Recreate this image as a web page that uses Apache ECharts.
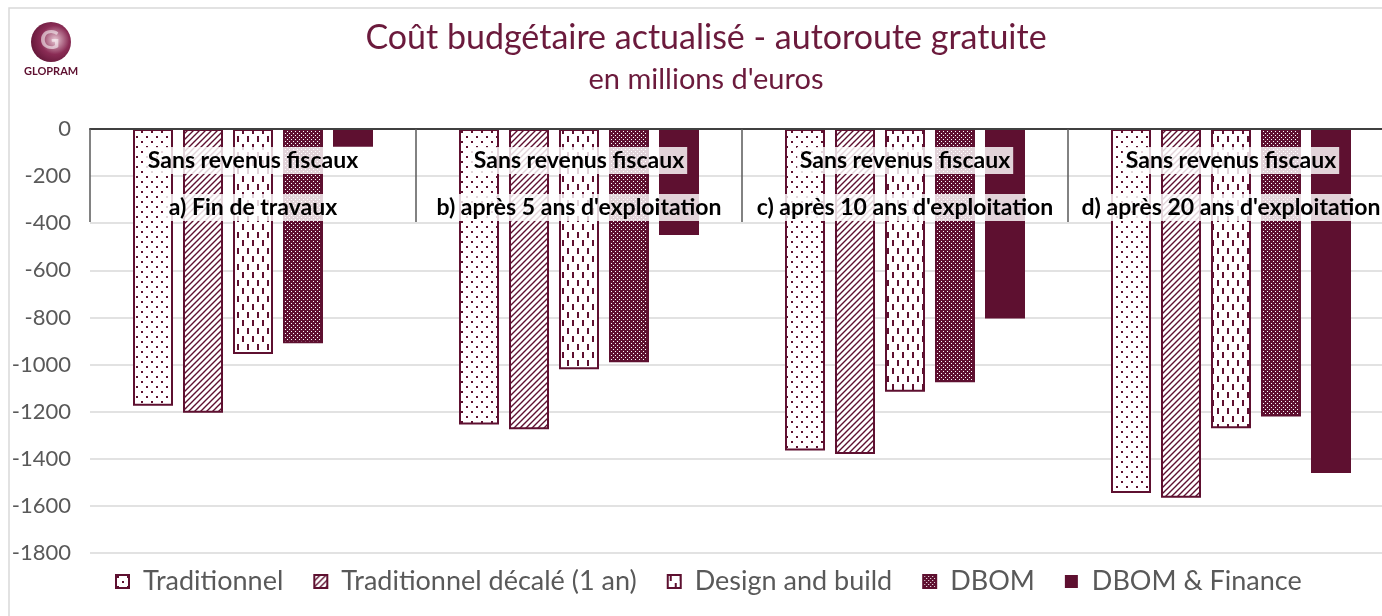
<!DOCTYPE html>
<html>
<head>
<meta charset="utf-8">
<script src="https://cdn.jsdelivr.net/npm/echarts@6/dist/echarts.min.js"></script>
<style>
  html, body { margin: 0; padding: 0; background: #fff; }
  #chart { width: 1382px; height: 616px; }
</style>
</head>
<body>
<div id="chart"></div>
<script>
// ==================== Données ====================

const categories = ['a) Fin de travaux', "b) après 5 ans d'exploitation", "c) après 10 ans d'exploitation", "d) après 20 ans d'exploitation"];
const groupLabel = 'Sans revenus fiscaux';
const seriesNames = ['Traditionnel', 'Traditionnel décalé (1 an)', 'Design and build', 'DBOM', 'DBOM & Finance'];

const traditionnel = [-1175, -1255, -1365, -1545];
const traditionnelDecale = [-1205, -1275, -1380, -1565];
const designBuild = [-955, -1020, -1115, -1270];
const dbom = [-910, -990, -1075, -1220];
const dbomFinance = [-75, -450, -805, -1460];

const seriesValues = [traditionnel, traditionnelDecale, designBuild, dbom, dbomFinance];

// ==================== Style ====================

const MAROON = '#5e1030';
const FONT = 'Lato, "Open Sans", sans-serif';

// motifs de remplissage (type Excel)
function makePattern(w, h, draw) {
    const c = document.createElement('canvas');
    c.width = w;
    c.height = h;
    const ctx = c.getContext('2d');
    ctx.fillStyle = '#fff';
    ctx.fillRect(0, 0, w, h);
    ctx.fillStyle = MAROON;
    ctx.strokeStyle = MAROON;
    draw(ctx);
    return { image: c, repeat: 'repeat' };
}

const patterns = [
    // points épars
    makePattern(10, 10, ctx => {
        ctx.fillRect(1, 1, 2, 2);
        ctx.fillRect(6, 6, 2, 2);
    }),
    // hachures diagonales
    makePattern(6, 6, ctx => {
        ctx.lineWidth = 1.4;
        ctx.beginPath();
        ctx.moveTo(-1, 7); ctx.lineTo(7, -1);
        ctx.moveTo(-4, 4); ctx.lineTo(4, -4);
        ctx.moveTo(2, 10); ctx.lineTo(10, 2);
        ctx.stroke();
    }),
    // tirets verticaux
    makePattern(10, 16, ctx => {
        ctx.fillRect(2, 0, 2, 6);
        ctx.fillRect(7, 8, 2, 6);
    }),
    // trame dense
    makePattern(4, 4, ctx => {
        ctx.fillRect(0, 0, 4, 4);
        ctx.fillStyle = '#fff';
        ctx.fillRect(1, 1, 1, 1);
        ctx.fillRect(3, 3, 1, 1);
    }),
    MAROON
];

// ==================== Graphique ====================

const chart = echarts.init(document.getElementById('chart'));

const series = seriesNames.map((name, i) => ({
    name,
    type: 'bar',
    xAxisIndex: 0,
    data: seriesValues[i],
    barWidth: 40,
    barGap: '25%',
    z: 2,
    itemStyle: {
        color: patterns[i],
        borderColor: MAROON,
        borderWidth: i === 4 ? 0 : 2
    }
}));

const labelBox = {
    fontFamily: FONT,
    fontWeight: 'bold',
    fontSize: 23,
    color: '#000',
    backgroundColor: 'rgba(255,255,255,0.82)',
    padding: [2, 3]
};

chart.setOption({
    animation: false,
    textStyle: { fontFamily: FONT },
    title: {
        text: 'Coût budgétaire actualisé - autoroute gratuite',
        subtext: "en millions d'euros",
        left: 701,
        top: 16,
        textAlign: 'center',
        itemGap: 10,
        textStyle: { color: '#6b1a3c', fontSize: 34, fontWeight: 'normal', fontFamily: FONT },
        subtextStyle: { color: '#6b1a3c', fontSize: 29, fontFamily: FONT }
    },
    legend: {
        bottom: 16,
        left: 110,
        itemWidth: 13,
        itemHeight: 13,
        itemGap: 30,
        icon: 'rect',
        textStyle: { color: '#595959', fontSize: 27, fontFamily: FONT, padding: [0, 0, 0, 9] },
        data: seriesNames
    },
    grid: { left: 90, top: 129, width: 1304, bottom: 63, outerBoundsMode: 'none', containLabel: false },
    xAxis: [
        {
            type: 'category',
            position: 'top',
            data: categories,
            z: 10,
            axisLine: { show: true, lineStyle: { color: '#404040', width: 2 } },
            axisTick: { show: true, inside: true, length: 93, interval: 0, lineStyle: { color: '#595959', width: 1.5 } },
            axisLabel: {
                inside: true,
                interval: 0,
                margin: 18,
                formatter: () => groupLabel,
                ...labelBox
            }
        },
        {
            type: 'category',
            position: 'top',
            data: categories,
            z: 10,
            axisLine: { show: false },
            axisTick: { show: false },
            axisLabel: {
                inside: true,
                interval: 0,
                margin: 65,
                ...labelBox
            }
        }
    ],
    yAxis: {
        type: 'value',
        min: -1800,
        max: 0,
        interval: 200,
        axisLine: { show: false },
        axisTick: { show: false },
        axisLabel: { color: '#595959', fontSize: 22, margin: 19, fontFamily: FONT, formatter: v => String(v) },
        splitLine: { lineStyle: { color: '#d9d9d9', width: 1.5 } }
    },
    graphic: [
        // cadre du graphique
        {
            type: 'rect',
            shape: { x: 9, y: 8, width: 1500, height: 700 },
            style: { fill: 'none', stroke: '#d9d9d9', lineWidth: 1.5 },
            silent: true
        },
        // logo GLOPRAM
        {
            type: 'circle',
            shape: { cx: 51, cy: 42, r: 20 },
            style: {
                fill: new echarts.graphic.RadialGradient(0.6, 0.45, 0.8, [
                    { offset: 0, color: '#e8c8d4' },
                    { offset: 0.45, color: '#8a2c55' },
                    { offset: 1, color: '#4a0a26' }
                ])
            }
        },
        {
            type: 'text',
            left: 40,
            top: 27,
            style: { text: 'G', fill: '#fff', font: 'bold 27px ' + FONT, opacity: 0.55 }
        },
        {
            type: 'text',
            left: 24,
            top: 66,
            style: { text: 'GLOPRAM', fill: '#5e1030', font: 'bold 11px ' + FONT }
        }
    ],
    series
});
</script>
</body>
</html>
